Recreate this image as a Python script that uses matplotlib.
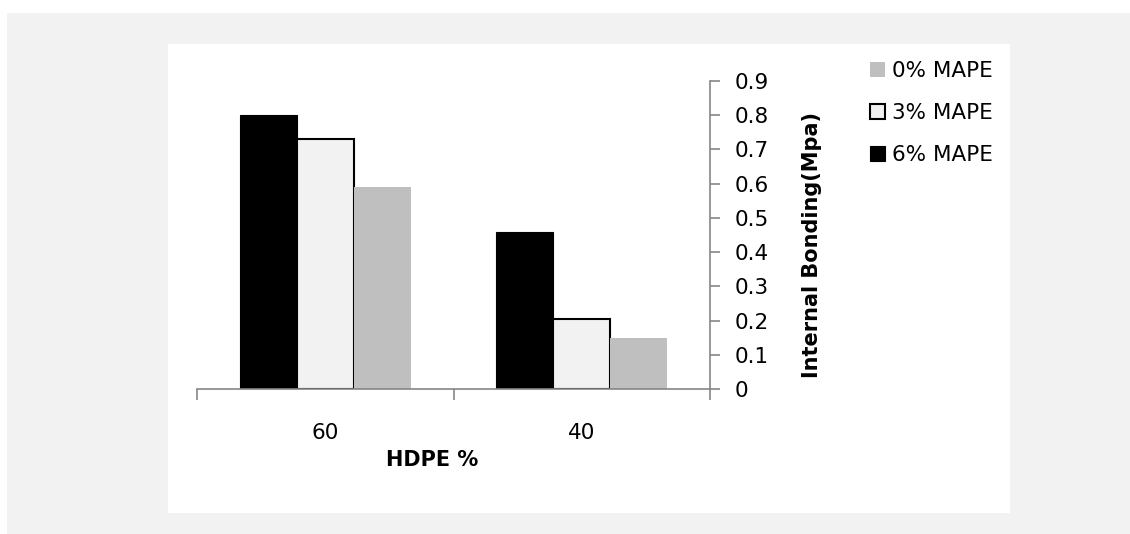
import numpy as np
import matplotlib
matplotlib.use("Agg")
import matplotlib.pyplot as plt
from matplotlib.patches import Rectangle

plt.rcParams['font.family'] = ['DejaVu Sans']

# ---- data ----
categories = ['60', '40']
mape_6 = [0.80, 0.46]
mape_3 = [0.73, 0.205]
mape_0 = [0.59, 0.15]
series_labels = ['6% MAPE', '3% MAPE', '0% MAPE']
ytick_values = [0, 0.1, 0.2, 0.3, 0.4, 0.5, 0.6, 0.7, 0.8, 0.9]
ytick_labels = ['0', '0.1', '0.2', '0.3', '0.4', '0.5', '0.6', '0.7', '0.8', '0.9']
xlabel = 'HDPE %'
ylabel = 'Internal Bonding(Mpa)'

W, H = 1130, 534
fig = plt.figure(figsize=(W / 100, H / 100), dpi=100)
fig.patch.set_facecolor('white')

def fx(px):
    return px / W

def fy(py):
    return 1 - py / H

# outer light-gray frame and white chart area
fig.add_artist(Rectangle((fx(7), 0), 1 - fx(7), fy(13), transform=fig.transFigure,
                         facecolor='#F2F2F2', edgecolor='none', zorder=-10))
fig.add_artist(Rectangle((fx(168), fy(513)), fx(1010) - fx(168), fy(44) - fy(513),
                         transform=fig.transFigure, facecolor='white', edgecolor='none', zorder=-9))

axis_color = '#868686'
ax = fig.add_axes([fx(197), fy(389), fx(710) - fx(197), fy(81) - fy(389)])
ax.patch.set_alpha(0)

x = np.arange(len(categories))
w = 57 / 256.5
b6 = ax.bar(x - w, mape_6, w, color='black', edgecolor='black', linewidth=0.8, label=series_labels[0])
b3 = ax.bar(x, mape_3, w, color='#F2F2F2', edgecolor='black', linewidth=1.5, label=series_labels[1])
b0 = ax.bar(x + w, mape_0, w, color='#BFBFBF', edgecolor='none', label=series_labels[2])

ax.set_xlim(-0.5, len(categories) - 0.5)
ax.set_ylim(0, 0.9)

for s in ['left', 'top']:
    ax.spines[s].set_visible(False)
for s in ['right', 'bottom']:
    ax.spines[s].set_color(axis_color)
    ax.spines[s].set_linewidth(1.2)

ax.yaxis.tick_right()
ax.set_yticks(ytick_values)
ax.set_yticklabels(ytick_labels)
ax.tick_params(axis='y', direction='out', length=7, width=1.2, color=axis_color,
               pad=10.5, labelsize=15.5)

ax.set_xticks(np.arange(len(categories) + 1) - 0.5)
ax.set_xticklabels([''] * (len(categories) + 1))
ax.tick_params(axis='x', which='major', direction='out', length=8, width=1.2, color=axis_color)
ax.set_xticks(x, minor=True)
ax.set_xticklabels(categories, minor=True)
ax.tick_params(axis='x', which='minor', length=0, pad=24.5, labelsize=15.5)

fig.text(fx(432), fy(460), xlabel, ha='center', va='center', fontsize=15, fontweight='bold')
fig.text(fx(812), fy(245), ylabel, ha='center', va='center', rotation=90,
         fontsize=15, fontweight='bold')

handles = [b0, b3, b6]
leg = fig.legend(handles, [h.get_label() for h in handles], loc='upper left',
                 bbox_to_anchor=(fx(870), fy(61)), frameon=False, fontsize=15.5,
                 handlelength=0.7, handleheight=0.7, handletextpad=0.3,
                 labelspacing=1.03, borderpad=0, borderaxespad=0)

fig.savefig('out.png', dpi=100)
